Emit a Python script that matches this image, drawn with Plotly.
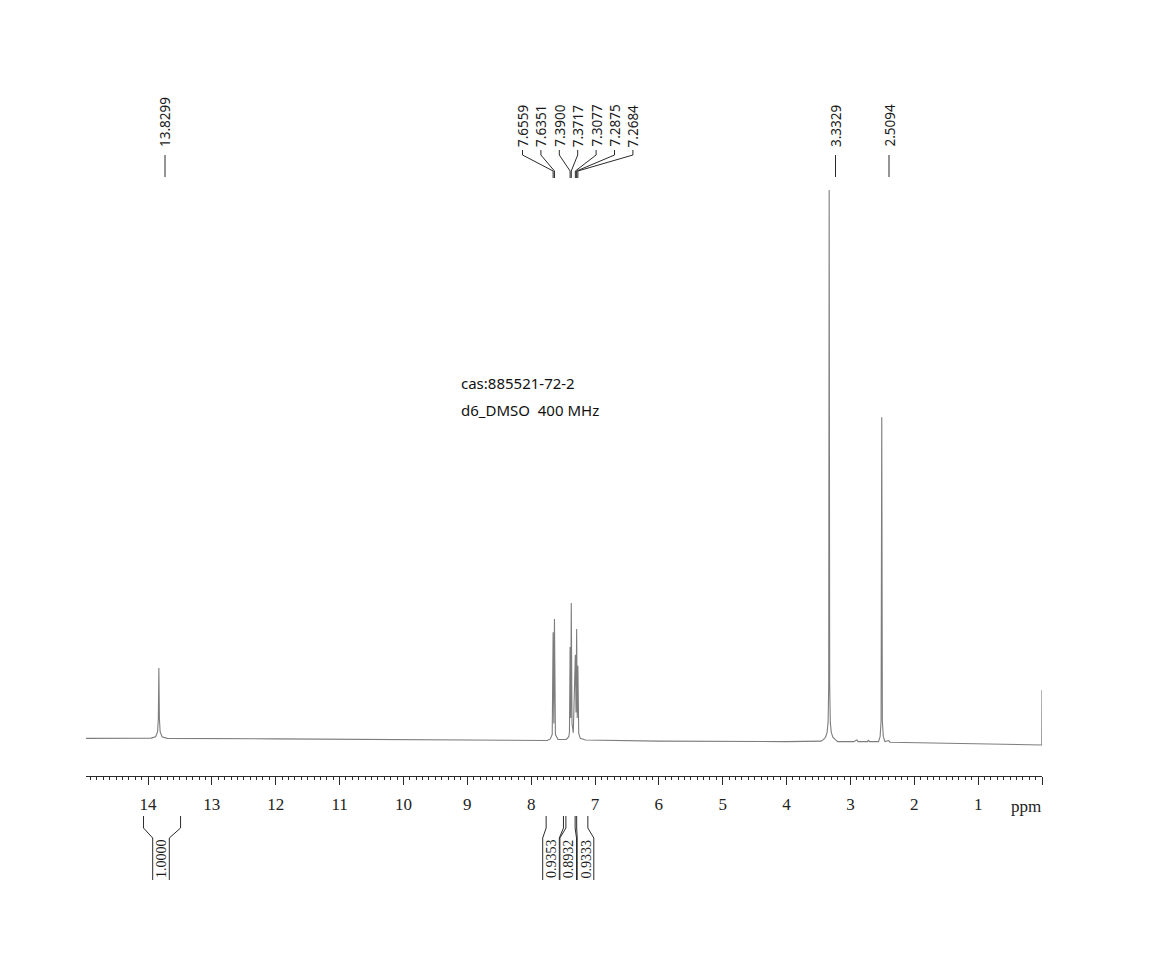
import plotly.graph_objects as go

# ---------------- data ----------------
# 1H NMR trace: chemical shift (ppm) and relative intensity (tallest peak = 100)
spec_ppm = [14.97, 14.5, 14.2, 13.95, 13.88, 13.85, 13.838, 13.8299, 13.822, 13.81, 13.78, 13.7,
            12.0, 10.0, 8.0, 7.75, 7.70, 7.67, 7.6559, 7.645, 7.6351, 7.62, 7.58,
            7.45, 7.41, 7.40, 7.3900, 7.38, 7.3717, 7.36, 7.34, 7.3077, 7.297, 7.2875, 7.278,
            7.2684, 7.255, 7.23, 7.15, 6.0, 4.0, 3.5, 3.46, 3.42, 3.39, 3.365, 3.35, 3.34, 3.3329,
            3.325, 3.315, 3.30, 3.275, 3.24, 3.2, 2.95, 2.90, 2.88, 2.73, 2.72, 2.70, 2.56, 2.535,
            2.52, 2.5094, 2.50, 2.485, 2.46, 2.40, 2.38, 1.0, 0.01, 0.003, 0.0]
spec_int = [0.3, 0.3, 0.3, 0.35, 0.6, 1.5, 4.0, 13.1, 4.0, 1.5, 0.6, 0.3,
            0.2, 0.0, -0.1, -0.1, 0.2, 1.0, 19.6, 3.0, 22.0, 1.0, 0.1,
            0.1, 0.6, 1.5, 16.9, 4.0, 24.9, 3.0, 1.3, 15.5, 5.0, 20.2, 4.0,
            13.5, 1.2, 0.3, 0.0, -0.2, -0.3, -0.3, -0.2, 0.1, 0.5, 1.4, 3.2, 10.0, 100.0,
            10.0, 3.2, 1.4, 0.5, 0.1, -0.3, -0.3, 0.0, -0.3, -0.3, 0.0, -0.3, -0.3, 0.6,
            3.5, 58.7, 3.5, 0.6, -0.3, -0.1, -0.4, -0.7, -0.9, -0.9, 9.1]

# peak picking labels
single_labels = ["13.8299", "3.3329", "2.5094"]
multiplet_labels = ["7.6559", "7.6351", "7.3900", "7.3717", "7.3077", "7.2875", "7.2684"]
multiplet_ppm = [7.6559, 7.6351, 7.3900, 7.3717, 7.3077, 7.2875, 7.2684]

# integrals
integ_start = [14.07, 7.765, 7.456, 7.287]
integ_end = [13.49, 7.494, 7.311, 7.112]
integ_text = ["1.0000", "0.9353", "0.8932", "0.9333"]

# axis ticks
tick_vals = list(range(0, 15))
tick_text = [""] + [str(i) for i in range(1, 15)]

info_lines = ["cas:885521-72-2", "d6_DMSO  400 MHz"]

# ---------------- layout helpers ----------------
W, H = 1149, 953
X_LEFT_PX, X_RIGHT_PX = 86, 1042
RANGE_LEFT, RANGE_RIGHT = 14.971, 0.0
PX_PER_PPM = (X_RIGHT_PX - X_LEFT_PX) / (RANGE_LEFT - RANGE_RIGHT)
PLOT_BOTTOM_PX = 776


def px2ppm(px):
    return RANGE_LEFT - (px - X_LEFT_PX) / PX_PER_PPM


def py(ypx):
    return (PLOT_BOTTOM_PX - ypx) / PLOT_BOTTOM_PX


BASE_PX, TOP_PX = 740, 190  # intensity 0 and 100
unit = (BASE_PX - TOP_PX) / 100.0
ymin = -(PLOT_BOTTOM_PX - BASE_PX) / unit
ymax = ymin + PLOT_BOTTOM_PX / unit

LINE_COL = "#2a2a2a"
shapes = []
annotations = []


def seg(x0, y0, x1, y1):
    shapes.append(dict(type="line", xref="x", yref="paper", x0=x0, y0=py(y0), x1=x1, y1=py(y1),
                       line=dict(color=LINE_COL, width=1)))


label_font = dict(family="Noto Sans, Open Sans, sans-serif", size=13.5, color="#1a1a1a")

# single peak labels
single_px = [165, 835.5, 889]
for txt, px in zip(single_labels, single_px):
    x = px2ppm(px)
    annotations.append(dict(text=txt, x=x, y=py(149), xref="x", yref="paper", textangle=-90,
                            xanchor="center", yanchor="bottom", showarrow=False, font=label_font))
    seg(x, 155, x, 177)

# multiplet labels with converging leaders
for i, (txt, p) in enumerate(zip(multiplet_labels, multiplet_ppm)):
    lx = px2ppm(522.5 + i * 18.4)
    annotations.append(dict(text=txt, x=lx, y=py(149), xref="x", yref="paper", textangle=-90,
                            xanchor="center", yanchor="bottom", showarrow=False, font=label_font))
    seg(lx, 150, lx, 155)
    seg(lx, 155, p, 171)
    seg(p, 171, p, 178)

# integrals
integ_center_px = [161, 551, 568.2, 585.5]
integ_font = dict(family="Liberation Serif, Times New Roman, serif", size=14, color="#1a1a1a")
for s, e, txt, cpx in zip(integ_start, integ_end, integ_text, integ_center_px):
    lb, rb = px2ppm(cpx - 8.3), px2ppm(cpx + 8.3)
    seg(s, 816, s, 828)
    seg(e, 816, e, 828)
    seg(s, 828, lb, 838)
    seg(e, 828, rb, 838)
    seg(lb, 838, lb, 880)
    seg(rb, 838, rb, 880)
    annotations.append(dict(text=txt, x=px2ppm(cpx), y=py(859), xref="x", yref="paper", textangle=-90,
                            xanchor="center", yanchor="middle", showarrow=False, font=integ_font))

# ppm unit label
annotations.append(dict(text="ppm", x=px2ppm(1026), y=py(806), xref="x", yref="paper",
                        xanchor="center", yanchor="middle", showarrow=False,
                        font=dict(family="Liberation Serif, Times New Roman, serif", size=17, color="#222")))

# sample info
for j, t in enumerate(info_lines):
    annotations.append(dict(text=t, x=(459 - X_LEFT_PX) / (X_RIGHT_PX - X_LEFT_PX), y=py(383 + j * 27),
                            xref="paper", yref="paper", xanchor="left", yanchor="middle", showarrow=False,
                            font=dict(family="Noto Sans, Open Sans, sans-serif", size=15, color="#111")))

fig = go.Figure()
fig.add_trace(go.Scatter(x=spec_ppm, y=spec_int, mode="lines",
                         line=dict(color="#7d7d7d", width=1.1), hoverinfo="skip", showlegend=False))

fig.update_layout(
    width=W, height=H,
    margin=dict(l=X_LEFT_PX, r=W - X_RIGHT_PX, t=0, b=H - PLOT_BOTTOM_PX, pad=0),
    paper_bgcolor="white", plot_bgcolor="white",
    showlegend=False,
    shapes=shapes, annotations=annotations,
    xaxis=dict(range=[RANGE_LEFT, RANGE_RIGHT], showgrid=False, zeroline=False,
               showline=True, linecolor=LINE_COL, linewidth=1,
               ticks="outside", ticklen=8, tickwidth=1, tickcolor=LINE_COL,
               tickvals=tick_vals, ticktext=tick_text, ticklabelstandoff=5,
               tickfont=dict(family="Liberation Serif, Times New Roman, serif", size=17, color="#222"),
               minor=dict(ticks="outside", ticklen=3, tickwidth=1, tickcolor=LINE_COL,
                          dtick=0.1, tick0=0, showgrid=False)),
    yaxis=dict(range=[ymin, ymax], visible=False, showgrid=False, zeroline=False),
)

fig.write_html("out.html")
